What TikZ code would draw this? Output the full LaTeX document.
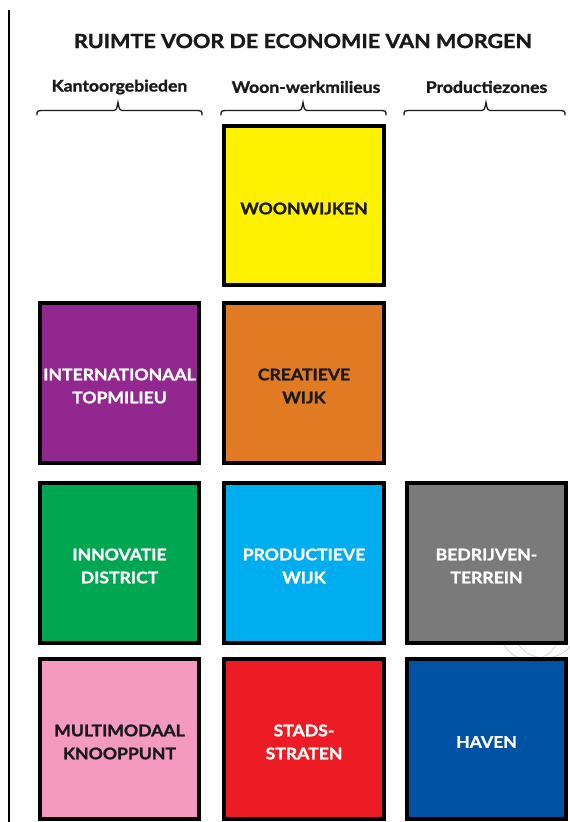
\documentclass[tikz,border=0pt]{standalone}
\usepackage{fontspec}
\setmainfont{Lato}
% heavier, slightly wider cut for all lettering
\newfontfamily\heavyfont{Lato}[UprightFont=* Bold, FakeStretch=1.1, FakeBold=1.3]
\begin{document}
\begin{tikzpicture}[x=1pt,y=-1pt,
  tile/.style={draw=black, line width=3.6pt, minimum width=159.5pt, minimum height=159.5pt,
    inner sep=0pt},
  tilelabel/.style={inner sep=0pt, align=center,
    font=\heavyfont\fontsize{16}{23}\selectfont},
  darktext/.style={text=black!90},
  lighttext/.style={text=white},
  heading/.style={font=\heavyfont\fontsize{16}{18}\selectfont, text=black!90},
  bracket/.style={line width=1.3pt, black!90, line cap=round},
  ]
  \definecolor{cYellow}{HTML}{FFF200}
  \definecolor{cOrange}{HTML}{E07B24}
  \definecolor{cPurple}{HTML}{92278F}
  \definecolor{cGreen}{HTML}{00A651}
  \definecolor{cSky}{HTML}{00AEEF}
  \definecolor{cGrey}{HTML}{7A7A7A}
  \definecolor{cPink}{HTML}{F49AC1}
  \definecolor{cRed}{HTML}{ED1C24}
  \definecolor{cNavy}{HTML}{0052A5}

  \useasboundingbox (0,0) rectangle (570,822);
  \fill[white] (0,0) rectangle (570,822);

  % margin rule on the left
  \coordinate (ruleTop) at (9,10);
  \coordinate (ruleBot) at (9,822);
  \draw[line width=2.6pt] (ruleTop) -- (ruleBot);

  % faint circles behind the grid
  \begin{scope}
    \clip (495,644) rectangle (570,659);
    \draw[gray!35, line width=0.8pt] (530,630) circle (30);
    \draw[gray!35, line width=0.8pt] (545,625) circle (33);
  \end{scope}

  % title
  \node[font=\heavyfont\fontsize{19.6}{22}\selectfont, text=black!90] (title) at (303,41)
    {RUIMTE VOOR DE ECONOMIE VAN MORGEN};

  % column headings
  \node[heading] (h1) at (119.5,87) {Kantoorgebieden};
  \node[heading] (h2) at (306,87) {Woon-werkmilieus};
  \node[heading] (h3) at (486.5,87) {Productiezones};

  % curly brackets under the headings
  \foreach \xa/\xc/\xb in {37/118/202, 221/303/386, 404/486/565}{
    \draw[bracket] (\xa,115) .. controls (\xa,110.5) .. (\xa+9,110.5)
      -- (\xc-7,110.5) .. controls (\xc-1.5,110.5) .. (\xc,102.5)
      .. controls (\xc+1.5,110.5) .. (\xc+7,110.5)
      -- (\xb-9,110.5) .. controls (\xb,110.5) .. (\xb,115);
  }

  % tiles
  \node[tile, fill=cYellow] (woon)  at (304,205.5) {};
  \node[tile, fill=cPurple] (intl)  at (119.5,383) {};
  \node[tile, fill=cOrange] (creat) at (304,383) {};
  \node[tile, fill=cGreen]  (innov) at (119.5,563) {};
  \node[tile, fill=cSky]    (prod)  at (304,563) {};
  \node[tile, fill=cGrey]   (bedr)  at (486.5,563) {};
  \node[tile, fill=cPink]   (multi) at (119.5,739) {};
  \node[tile, fill=cRed]    (stads) at (304,739) {};
  \node[tile, fill=cNavy]   (haven) at (486.5,739) {};

  % tile captions, set a little below the tile centre
  \begin{scope}[every node/.append style={yshift=-3pt}]
  \node[tilelabel, darktext]  (woonT)  at (woon.center)  {WOONWIJKEN};
  \node[tilelabel, lighttext] (intlT)  at (intl.center)  {INTERNATIONAAL\\TOPMILIEU};
  \node[tilelabel, darktext]  (creatT) at (creat.center) {CREATIEVE\\WIJK};
  \node[tilelabel, lighttext] (innovT) at (innov.center) {INNOVATIE\\DISTRICT};
  \node[tilelabel, lighttext] (prodT)  at (prod.center)  {PRODUCTIEVE\\WIJK};
  \node[tilelabel, lighttext] (bedrT)  at (bedr.center)  {BEDRIJVEN-\\TERREIN};
  \node[tilelabel, darktext]  (multiT) at (multi.center) {MULTIMODAAL\\KNOOPPUNT};
  \node[tilelabel, lighttext] (stadsT) at (stads.center) {STADS-\\STRATEN};
  \node[tilelabel, lighttext] (havenT) at (haven.center) {HAVEN};
  \end{scope}
\end{tikzpicture}
\end{document}
